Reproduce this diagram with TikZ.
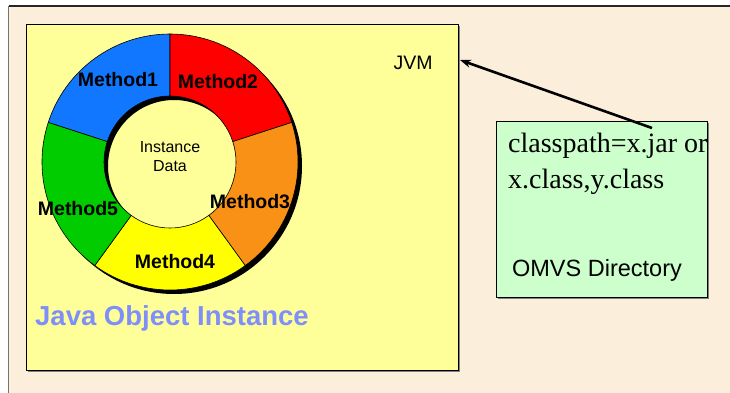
\documentclass[tikz,border=0pt]{standalone}
\usepackage{fontspec}
\setmainfont{Liberation Serif}
\newfontfamily\arialf{Liberation Sans}
\usetikzlibrary{arrows.meta}
\definecolor{beige}{HTML}{FBEFDC}
\definecolor{boxyellow}{HTML}{FFFF99}
\definecolor{boxgreen}{HTML}{CCFFCC}
\definecolor{mblue}{HTML}{1177FF}
\definecolor{mred}{HTML}{FF0000}
\definecolor{morange}{HTML}{F99117}
\definecolor{myellow}{HTML}{FFFF00}
\definecolor{mgreen}{HTML}{00CC00}
\definecolor{javablue}{HTML}{7F8FFA}
\tikzset{
  panel/.style={draw=black, line width=0.8pt, inner sep=0pt, anchor=north west},
  mlabel/.style={font=\arialf\bfseries\fontsize{19.5}{22}\selectfont, inner sep=0pt},
  seg/.style={draw=black, line width=0.6pt},
  conn/.style={line width=2.6pt, -{Stealth[length=11pt,width=8pt]}},
}
\begin{document}
\begin{tikzpicture}[x=1pt,y=-1pt]
\useasboundingbox (0,0) rectangle (730,393);
\clip (0,0) rectangle (730,393);
\fill[white] (0,0) rectangle (730,393);
% outer frame
\fill[beige] (8.5,6) rectangle (735,400);
\draw[black!85, line width=1.5pt] (8.5,6) -- (735,6);
\draw[black!55, line width=1pt] (8.5,6) -- (8.5,400);
% yellow box with shadow
\fill[black!50] (28,26) rectangle (460,372);
\node[panel, fill=boxyellow, minimum width=432pt, minimum height=346pt] (yb) at (26,24) {};
% green box with shadow
\fill[black!50] (498,123) rectangle (709,299);
\node[panel, fill=boxgreen, minimum width=211pt, minimum height=176pt] (gb) at (496,121) {};
% ring
\coordinate (c) at (170,162);
\fill[black, even odd rule] ([shift={(4,4)}]c) circle[radius=128] ([shift={(4,4)}]c) circle[radius=66];
\foreach \s/\e/\col in {-162/-90/mblue, -90/-18/mred, -18/54/morange, 54/126/myellow, 126/198/mgreen}{
  \draw[seg, fill=\col] ([shift={(\s:128)}]c) arc[start angle=\s, end angle=\e, radius=128]
     -- ([shift={(\e:66)}]c) arc[start angle=\e, end angle=\s, radius=66] -- cycle;
}
\node[mlabel] (m1) at (118,80) {Method1};
\node[mlabel] (m2) at (218,82) {Method2};
\node[mlabel] (m3) at (250,202) {Method3};
\node[mlabel] (m4) at (175,262) {Method4};
\node[mlabel] (m5) at (78,209) {Method5};
\node[font=\arialf\fontsize{16}{19}\selectfont, align=center, inner sep=0pt] (inst) at (170,157) {Instance\\Data};
\node[font=\arialf\fontsize{19.5}{22}\selectfont, inner sep=0pt] (jvm) at (413,63) {JVM};
\node[font=\arialf\bfseries\fontsize{27.5}{32}\selectfont, text=javablue, inner sep=0pt, anchor=west] (joi) at (35,318) {Java Object Instance};
% classpath text
\node[font=\fontsize{28}{32}\selectfont, inner sep=0pt, anchor=base west] (cp1) at (508,152) {classpath=x.jar or};
\node[font=\fontsize{28}{32}\selectfont, inner sep=0pt, anchor=base west] (cp2) at (508,188) {x.class,y.class};
\node[font=\arialf\fontsize{23.5}{27}\selectfont, inner sep=0pt] (omvs) at (597,270) {OMVS Directory};
% arrow
\coordinate (as) at (652,128);
\coordinate (tip) at (460,60);
\draw[conn] (as) -- (tip);
\end{tikzpicture}
\end{document}
